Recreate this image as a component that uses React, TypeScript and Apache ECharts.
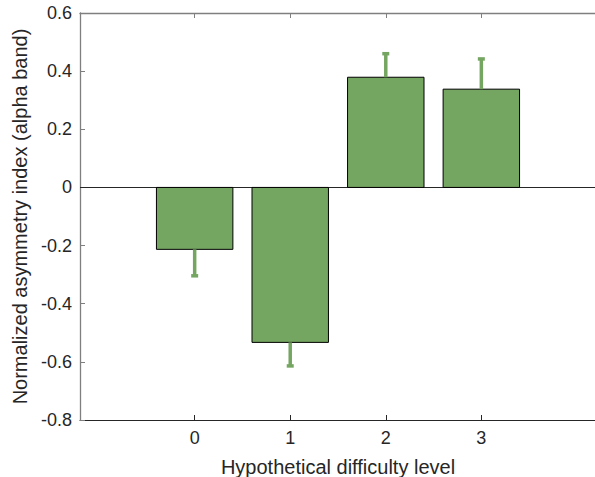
import React, { useEffect, useRef } from "react";
import * as echarts from "echarts";

const levels = [0, 1, 2, 3];
const meanValues = [-0.213, -0.533, 0.379, 0.338];
const errorValues = [0.091, 0.081, 0.081, 0.104];

const GREEN = "#75a661";
const TEXT = "#262626";
const FONT = "'Liberation Sans', Arial, sans-serif";

export default function App() {
  const ref = useRef<HTMLDivElement>(null);
  useEffect(() => {
    if (!ref.current) return;
    const chart = echarts.init(ref.current, null, { renderer: "svg" });
    const barData = levels.map((l, i) => [l, meanValues[i], errorValues[i]]);
    chart.setOption({
      animation: false,
      backgroundColor: "#ffffff",
      textStyle: { fontFamily: FONT },
      grid: {
        left: 80,
        top: 13,
        width: 516,
        height: 407,
        containLabel: false,
        outerBoundsMode: "none",
      },
      xAxis: [
        {
          type: "value",
          min: -1.2,
          max: 4.2,
          position: "bottom",
          name: "Hypothetical difficulty level",
          nameLocation: "middle",
          nameGap: 37,
          nameTextStyle: { fontSize: 20, color: TEXT, fontFamily: FONT },
          axisLine: { show: true, onZero: false, lineStyle: { color: TEXT, width: 1 } },
          axisTick: { show: true, inside: true, length: 5, customValues: levels, lineStyle: { color: TEXT } },
          axisLabel: {
            show: true,
            customValues: levels,
            fontSize: 18,
            color: TEXT,
            margin: 9,
            fontFamily: FONT,
          },
          splitLine: { show: false },
        },
        {
          type: "value",
          min: -1.2,
          max: 4.2,
          position: "top",
          axisLine: { show: true, onZero: false, lineStyle: { color: "#7f7f7f", width: 1.3 } },
          axisTick: { show: true, inside: true, length: 5, customValues: levels, lineStyle: { color: "#7f7f7f" } },
          axisLabel: { show: false },
          splitLine: { show: false },
        },
      ],
      yAxis: {
        type: "value",
        min: -0.8,
        max: 0.6,
        interval: 0.2,
        name: "Normalized asymmetry index (alpha band)",
        nameLocation: "middle",
        nameGap: 40,
        nameTextStyle: { fontSize: 20, color: TEXT, fontFamily: FONT },
        axisLine: { show: true, onZero: false, lineStyle: { color: "#7f7f7f", width: 1.3 } },
        axisTick: { show: true, inside: true, length: 5, lineStyle: { color: "#7f7f7f" } },
        axisLabel: {
          fontSize: 18,
          color: TEXT,
          margin: 8,
          fontFamily: FONT,
          formatter: (v: number) => {
            const r = Math.round(v * 10) / 10;
            return r === 0 ? "0" : r.toFixed(1);
          },
        },
        splitLine: { show: false },
      },
      series: [
        {
          type: "custom",
          xAxisIndex: 0,
          data: barData,
          clip: false,
          z: 3,
          renderItem: (params: any, api: any) => {
            const x = api.value(0);
            const y = api.value(1);
            const e = api.value(2);
            const p0 = api.coord([x - 0.4, 0]);
            const p1 = api.coord([x + 0.4, y]);
            const top = Math.min(p0[1], p1[1]);
            const h = Math.abs(p1[1] - p0[1]);
            const sign = y >= 0 ? 1 : -1;
            const a = api.coord([x, y]);
            const b = api.coord([x, y + sign * e]);
            return {
              type: "group",
              children: [
                {
                  type: "rect",
                  shape: { x: p0[0], y: top, width: p1[0] - p0[0], height: h },
                  style: { fill: GREEN, stroke: "#000000", lineWidth: 1 },
                },
                {
                  type: "line",
                  shape: { x1: a[0], y1: a[1], x2: b[0], y2: b[1] },
                  style: { stroke: GREEN, lineWidth: 3.5 },
                },
                {
                  type: "line",
                  shape: { x1: b[0] - 3.5, y1: b[1], x2: b[0] + 3.5, y2: b[1] },
                  style: { stroke: GREEN, lineWidth: 3.5 },
                },
              ],
            };
          },
          markLine: {
            silent: true,
            symbol: "none",
            label: { show: false },
            lineStyle: { color: TEXT, width: 1, type: "solid" },
            data: [{ yAxis: 0 }],
            z: 2,
          },
        },
      ],
    });
    return () => chart.dispose();
  }, []);
  return (
    <div
      ref={ref}
      style={{ position: "fixed", left: 0, top: 0, width: 595, height: 477, background: "#fff" }}
    />
  );
}
